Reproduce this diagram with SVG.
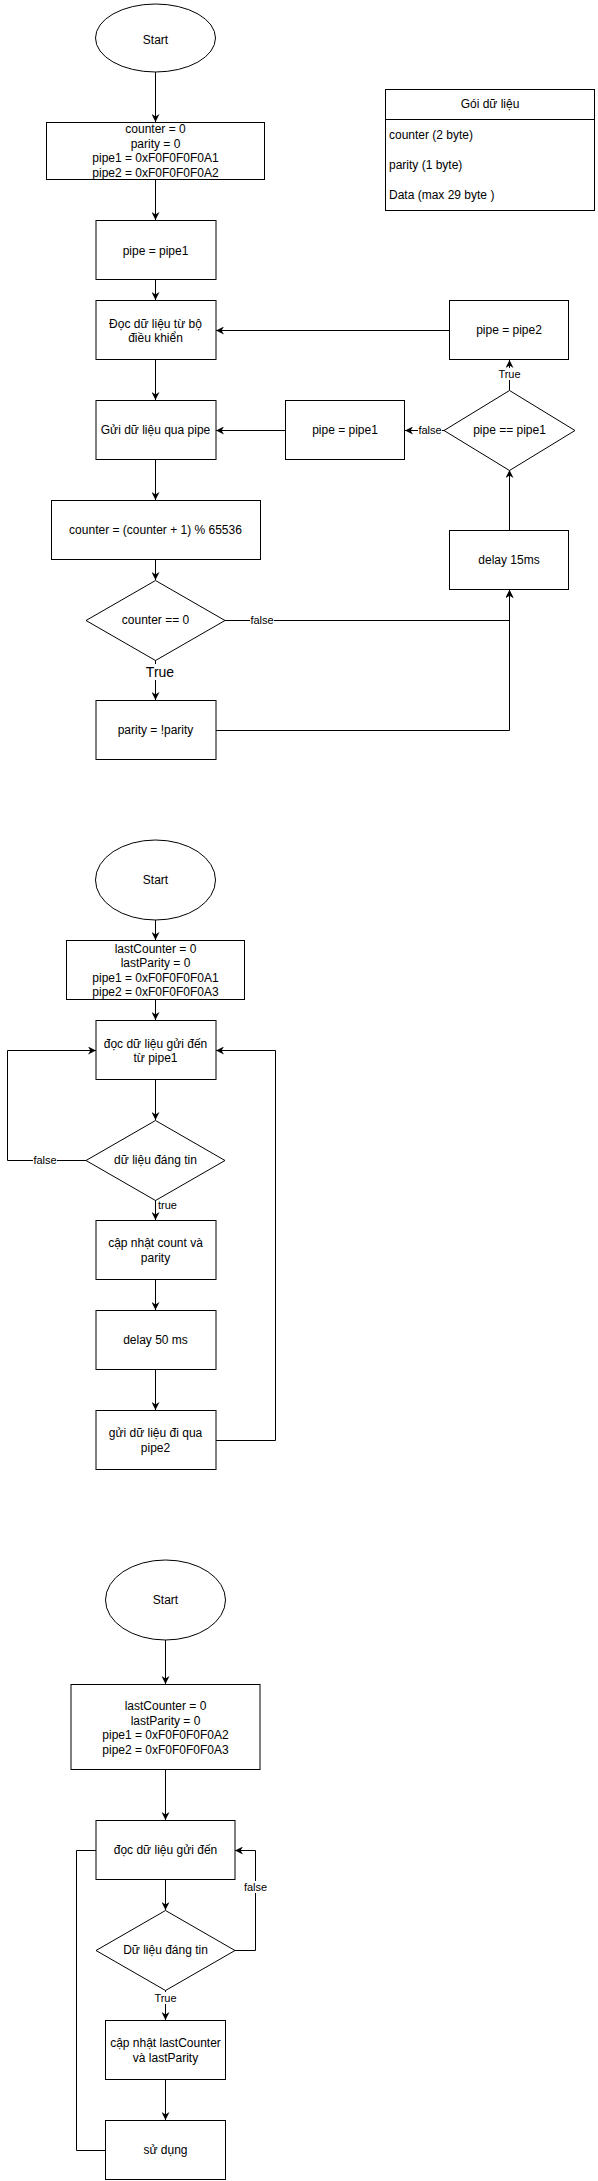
<svg xmlns="http://www.w3.org/2000/svg" width="598" height="2181" viewBox="0 0 598 2181">
<style>
.n{fill:#fff;stroke:#000;stroke-width:1}
.t{font-family:"Liberation Sans",Arial,sans-serif;font-size:12px;fill:#000;text-anchor:middle;dominant-baseline:central}
.tl{font-family:"Liberation Sans",Arial,sans-serif;font-size:12px;fill:#000;text-anchor:start;dominant-baseline:central}
.lb{font-family:"Liberation Sans",Arial,sans-serif;font-size:11px;fill:#000;text-anchor:middle;dominant-baseline:central}
.e{fill:none;stroke:#000;stroke-width:1;marker-end:url(#a)}
.bg{fill:#fff}
</style>
<defs>
<marker id="a" viewBox="0 0 10 10" refX="10" refY="5" markerWidth="8" markerHeight="8" markerUnits="userSpaceOnUse" orient="auto">
<path d="M0,0 L10,5 L0,10 L3,5 z" fill="#000"/>
</marker>
</defs>
<rect width="598" height="2181" fill="#fff"/>
<g id="connectors">
<path class="e" d="M155.5,72 V122"/>
<path class="e" d="M155.5,180 V220"/>
<path class="e" d="M155.5,280 V300"/>
<path class="e" d="M155.5,360 V400"/>
<path class="e" d="M155.5,460 V500"/>
<path class="e" d="M155.5,560 V580"/>
<path class="e" d="M155.5,660 V700"/>
<path class="e" d="M225,620.5 H509.5 V590"/>
<path class="e" d="M216,730.5 H509.5 V590"/>
<path class="e" d="M509.5,530 V470"/>
<path class="e" d="M444,430.5 H405"/>
<path class="e" d="M509.5,390 V360"/>
<path class="e" d="M285,430.5 H216"/>
<path class="e" d="M449,330.5 H216"/>
<path class="e" d="M155.5,920 V940"/>
<path class="e" d="M155.5,1000 V1020"/>
<path class="e" d="M155.5,1080 V1120"/>
<path class="e" d="M86,1160.5 H7.5 V1050.5 H96"/>
<path class="e" d="M155.5,1200 V1220"/>
<path class="e" d="M155.5,1280 V1310"/>
<path class="e" d="M155.5,1370 V1410"/>
<path class="e" d="M216,1440.5 H275.5 V1050.5 H216"/>
<path class="e" d="M165.5,1640 V1684"/>
<path class="e" d="M165.5,1770 V1820"/>
<path class="e" d="M165.5,1880 V1910"/>
<path class="e" d="M235,1950.5 H255.5 V1850.5 H235"/>
<path class="e" d="M165.5,1990 V2020"/>
<path class="e" d="M165.5,2080 V2120"/>
<path class="e" d="M105.5,2150.5 H76.5 V1850.5 H105"/>
<rect class="bg" x="146" y="664" width="20" height="16"/>
<text class="t" x="160" y="672" style="font-size:14px">True</text>
<rect class="bg" x="250" y="614" width="24" height="12"/>
<text class="lb" x="262" y="620">false</text>
<rect class="bg" x="418" y="424" width="24" height="12"/>
<text class="lb" x="430" y="430">false</text>
<rect class="bg" x="497" y="368" width="24" height="12"/>
<text class="lb" x="509.5" y="374">True</text>
<rect class="bg" x="33" y="1154" width="24" height="12"/>
<text class="lb" x="45" y="1160">false</text>
<text class="lb" x="158" y="1205" style="text-anchor:start">true</text>
<rect class="bg" x="243" y="1881" width="24" height="12"/>
<text class="lb" x="255.5" y="1887">false</text>
<rect class="bg" x="153" y="1992" width="26" height="12"/>
<text class="lb" x="165.5" y="1998">True</text>
</g>
<g id="start1"><ellipse class="n" cx="155.5" cy="38" rx="60" ry="34"/><text class="t" x="155.5" y="40">Start</text></g>
<g id="init1"><rect class="n" x="46.5" y="122.5" width="218" height="57"/>
<text class="t" x="155.5" y="129">counter = 0</text><text class="t" x="155.5" y="143.5">parity = 0</text><text class="t" x="155.5" y="158">pipe1 = 0xF0F0F0F0A1</text><text class="t" x="155.5" y="172.5">pipe2 = 0xF0F0F0F0A2</text></g>
<g id="pipeSet1"><rect class="n" x="96" y="220.5" width="120" height="59"/><text class="t" x="155.5" y="251">pipe = pipe1</text></g>
<g id="read1"><rect class="n" x="96" y="300.5" width="120" height="59"/><text class="t" x="155.5" y="323.5">Đọc dữ liệu từ bộ</text><text class="t" x="155.5" y="338">điều khiển</text></g>
<g id="pipeSet2"><rect class="n" x="449.5" y="300.5" width="119" height="59"/><text class="t" x="509" y="330">pipe = pipe2</text></g>
<g id="send1"><rect class="n" x="96" y="400.5" width="120" height="59"/><text class="t" x="155.5" y="430">Gửi dữ liệu qua pipe</text></g>
<g id="pipeSet3"><rect class="n" x="285.5" y="400.5" width="119" height="59"/><text class="t" x="345" y="430">pipe = pipe1</text></g>
<g id="cond1"><path class="n" d="M444,430.5 L509.5,390.5 L575,430.5 L509.5,470.5 z"/><text class="t" x="509.5" y="430">pipe == pipe1</text></g>
<g id="counterInc"><rect class="n" x="51.5" y="500.5" width="209" height="59"/><text class="t" x="155.5" y="530">counter = (counter + 1) % 65536</text></g>
<g id="delay15"><rect class="n" x="449.5" y="530.5" width="119" height="59"/><text class="t" x="509" y="560">delay 15ms</text></g>
<g id="cond2"><path class="n" d="M86,620.5 L155.5,580.5 L225,620.5 L155.5,660.5 z"/><text class="t" x="155.5" y="620">counter == 0</text></g>
<g id="parity"><rect class="n" x="96" y="700.5" width="120" height="59"/><text class="t" x="155.5" y="730">parity = !parity</text></g>
<g id="packet"><rect class="n" x="385.5" y="89.5" width="209" height="121"/><line x1="385.5" y1="119.5" x2="594.5" y2="119.5" stroke="#000"/>
<text class="t" x="490" y="104">Gói dữ liệu</text>
<text class="tl" x="389" y="135">counter (2 byte)</text><text class="tl" x="389" y="165">parity (1 byte)</text><text class="tl" x="389" y="195">Data (max 29 byte )</text></g>
<g id="start2"><ellipse class="n" cx="155.5" cy="880" rx="60" ry="40"/><text class="t" x="155.5" y="880">Start</text></g>
<g id="init2"><rect class="n" x="66.5" y="940.5" width="178" height="59"/>
<text class="t" x="155.5" y="948.5">lastCounter = 0</text><text class="t" x="155.5" y="963">lastParity = 0</text><text class="t" x="155.5" y="977.5">pipe1 = 0xF0F0F0F0A1</text><text class="t" x="155.5" y="992">pipe2 = 0xF0F0F0F0A3</text></g>
<g id="read2"><rect class="n" x="96" y="1020.5" width="120" height="59"/><text class="t" x="155.5" y="1043.5">đọc dữ liệu gửi đến</text><text class="t" x="155.5" y="1058">từ pipe1</text></g>
<g id="cond3"><path class="n" d="M86,1160.5 L155.5,1120.5 L225,1160.5 L155.5,1200.5 z"/><text class="t" x="155.5" y="1160">dữ liệu đáng tin</text></g>
<g id="update2"><rect class="n" x="96" y="1220.5" width="120" height="59"/><text class="t" x="155.5" y="1243">cập nhật count và</text><text class="t" x="155.5" y="1257.5">parity</text></g>
<g id="delay50"><rect class="n" x="96" y="1310.5" width="120" height="59"/><text class="t" x="155.5" y="1340">delay 50 ms</text></g>
<g id="send2"><rect class="n" x="96" y="1410.5" width="120" height="59"/><text class="t" x="155.5" y="1433">gửi dữ liệu đi qua</text><text class="t" x="155.5" y="1447.5">pipe2</text></g>
<g id="start3"><ellipse class="n" cx="165.5" cy="1600" rx="60" ry="40"/><text class="t" x="165.5" y="1600">Start</text></g>
<g id="init3"><rect class="n" x="71" y="1684.5" width="189" height="85"/>
<text class="t" x="165.5" y="1706">lastCounter = 0</text><text class="t" x="165.5" y="1720.5">lastParity = 0</text><text class="t" x="165.5" y="1735">pipe1 = 0xF0F0F0F0A2</text><text class="t" x="165.5" y="1749.5">pipe2 = 0xF0F0F0F0A3</text></g>
<g id="read3"><rect class="n" x="96" y="1820.5" width="139" height="59"/><text class="t" x="165.5" y="1850">đọc dữ liệu gửi đến</text></g>
<g id="cond4"><path class="n" d="M96,1950.5 L165.5,1910.5 L235,1950.5 L165.5,1990.5 z"/><text class="t" x="165.5" y="1950">Dữ liệu đáng tin</text></g>
<g id="update3"><rect class="n" x="105.5" y="2020.5" width="120" height="59"/><text class="t" x="165.5" y="2043">cập nhật lastCounter</text><text class="t" x="165.5" y="2057.5">và lastParity</text></g>
<g id="use3"><rect class="n" x="105.5" y="2120.5" width="120" height="59"/><text class="t" x="165.5" y="2150">sử dụng</text></g>
</svg>
